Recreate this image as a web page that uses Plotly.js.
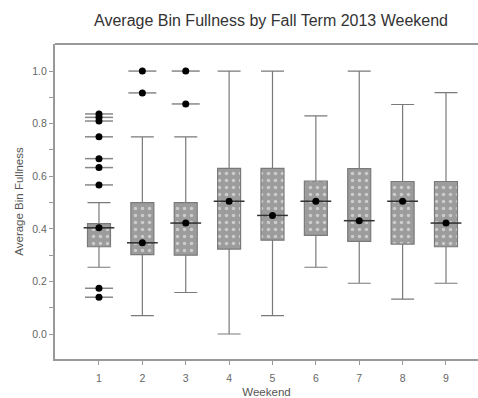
<!DOCTYPE html>
<html>
<head>
<meta charset="utf-8">
<script src="https://cdn.plot.ly/plotly-3.0.1.min.js"></script>
<style>html,body{margin:0;padding:0;background:#fff;}#chart{width:478px;height:398px;}</style>
</head>
<body>
<div id="chart"></div>
<script>
const weekends = [1, 2, 3, 4, 5, 6, 7, 8, 9];
const lowerFence = [0.254, 0.07, 0.158, 0.0, 0.07, 0.254, 0.193, 0.133, 0.193];
const q1 = [0.332, 0.302, 0.30, 0.323, 0.357, 0.375, 0.352, 0.342, 0.332];
const median = [0.404, 0.347, 0.422, 0.505, 0.451, 0.505, 0.431, 0.505, 0.422];
const q3 = [0.42, 0.50, 0.50, 0.63, 0.63, 0.582, 0.629, 0.58, 0.58];
const upperFence = [0.50, 0.75, 0.75, 1.0, 1.0, 0.83, 1.0, 0.873, 0.918];
const outlierX = [1, 1, 1, 1, 1, 1, 1, 1, 1, 2, 2, 3, 3];
const outlierY = [0.837, 0.824, 0.81, 0.75, 0.667, 0.633, 0.567, 0.174, 0.14, 1.0, 0.917, 1.0, 0.875];
const tickLabels = ['1', '2', '3', '4', '5', '6', '7', '8', '9'];

const boxW = 0.53;

const patternBars = {
  type: 'bar',
  x: weekends,
  base: q1,
  y: q3.map((v, i) => v - q1[i]),
  width: boxW,
  marker: {color: '#9c9c9c', line: {width: 0}, pattern: {shape: '.', fgcolor: '#cccccc', bgcolor: '#9c9c9c', size: 7, solidity: 0.2}},
  hoverinfo: 'skip',
  showlegend: false
};

const boxes = {
  type: 'box',
  x: weekends,
  q1: q1,
  median: median,
  q3: q3,
  lowerfence: lowerFence,
  upperfence: upperFence,
  width: boxW,
  whiskerwidth: 1,
  fillcolor: 'rgba(0,0,0,0)',
  line: {color: '#7a7a7a', width: 1.2},
  boxpoints: false,
  showlegend: false
};

const medianLines = {
  type: 'scatter', mode: 'markers',
  x: weekends, y: median,
  marker: {symbol: 'line-ew-open', size: 22, color: '#333', line: {color: '#333', width: 1.5}},
  showlegend: false
};

const medianDots = {
  type: 'scatter', mode: 'markers',
  x: weekends, y: median,
  marker: {symbol: 'circle', size: 7, color: '#000'},
  showlegend: false
};

const outlierLines = {
  type: 'scatter', mode: 'markers',
  x: outlierX, y: outlierY,
  marker: {symbol: 'line-ew-open', size: 20, color: '#888', line: {color: '#888', width: 1.5}},
  showlegend: false
};

const outlierDots = {
  type: 'scatter', mode: 'markers',
  x: outlierX, y: outlierY,
  marker: {symbol: 'circle', size: 7, color: '#000'},
  showlegend: false
};

const layout = {
  width: 478, height: 398,
  margin: {l: 55, r: 0, t: 44, b: 39},
  paper_bgcolor: '#fff', plot_bgcolor: '#fff',
  barmode: 'overlay',
  font: {family: 'Liberation Sans, Arial, sans-serif', color: '#444'},
  title: {text: 'Average Bin Fullness by Fall Term 2013 Weekend', font: {size: 16, color: '#333'},
          xref: 'container', x: 0.567, xanchor: 'center', yref: 'container', y: 0.948, yanchor: 'middle'},
  shapes: [
    {type: 'line', xref: 'paper', yref: 'paper', x0: 0, x1: 1, y0: 1, y1: 1, line: {color: '#999', width: 2}}
  ],
  xaxis: {
    range: [-0.014, 9.738],
    tickvals: weekends, ticktext: tickLabels,
    ticks: 'outside', ticklen: 4, tickcolor: '#999', tickwidth: 1,
    ticklabelstandoff: 4,
    showline: true, linecolor: '#999', linewidth: 2,
    showgrid: false, zeroline: false,
    tickfont: {size: 10.5, color: '#666'},
    title: {text: 'Weekend', font: {size: 11.5, color: '#555'}, standoff: 8}
  },
  yaxis: {
    range: [-0.095, 1.103],
    tickvals: [0, 0.2, 0.4, 0.6, 0.8, 1.0],
    ticktext: ['0.0', '0.2', '0.4', '0.6', '0.8', '1.0'],
    ticks: 'outside', ticklen: 4, tickcolor: '#999', tickwidth: 1,
    minor: {tickvals: [0.1, 0.3, 0.5, 0.7, 0.9], ticks: 'outside', ticklen: 4, tickcolor: '#999'},
    showline: true, linecolor: '#999', linewidth: 2,
    showgrid: false, zeroline: false,
    tickfont: {size: 10.5, color: '#666'},
    title: {text: 'Average Bin Fullness', font: {size: 11.5, color: '#555'}, standoff: 6}
  }
};

Plotly.newPlot('chart', [patternBars, boxes, medianLines, outlierLines, medianDots, outlierDots], layout, {staticPlot: true});
</script>
</body>
</html>
